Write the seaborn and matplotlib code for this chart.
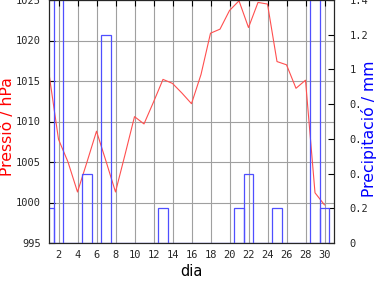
import matplotlib
matplotlib.use("Agg")
import matplotlib.pyplot as plt
import seaborn as sns
import numpy as np
import pandas as pd

# ---- data ----
days = list(range(1, 31))
pressure = [1015.9, 1007.8, 1005.0, 1001.3, 1005.0, 1008.8, 1005.1, 1001.3, 1005.9, 1010.6,
            1009.7, 1012.4, 1015.2, 1014.7, 1013.5, 1012.2, 1015.8, 1020.9, 1021.4, 1023.7,
            1024.9, 1021.6, 1024.7, 1024.5, 1017.4, 1017.0, 1014.1, 1015.1, 1001.2, 999.7]
rain_days = [1, 2, 5, 7, 13, 21, 22, 25, 29, 30]
rain_mm = [0.2, 2.4, 0.4, 1.2, 0.2, 0.2, 0.4, 0.2, 3.0, 0.2]
x_ticks = list(range(2, 31, 2))
p_ticks = [995, 1000, 1005, 1010, 1015, 1020, 1025]
r_ticks = [0, 0.2, 0.4, 0.6, 0.8, 1.0, 1.2, 1.4]
r_labels = ["0", "0.2", "0.4", "0.6", "0.8", "1", "1.2", "1.4"]

RED = "#ff4f4f"
BLUE = "#4f4fff"
GRID = "#a0a0a0"

sns.set_style("white")
plt.rcParams["font.family"] = ["DejaVu Sans"]

fig = plt.figure(figsize=(3.84, 2.88), dpi=100)
ax = fig.add_axes([49 / 384, 1 - 243 / 288, 285 / 384, 243 / 288])

df_p = pd.DataFrame({"dia": days, "p": pressure})
sns.lineplot(data=df_p, x="dia", y="p", ax=ax, color=RED, linewidth=0.8)

ax.set_xlim(1, 31)
ax.set_ylim(995, 1025)
ax.set_xticks(x_ticks)
ax.set_yticks(p_ticks)
ax.grid(True, color=GRID, linewidth=0.8)
ax.set_axisbelow(True)
for s in ax.spines.values():
    s.set_color("black")
    s.set_linewidth(0.8)
ax.tick_params(axis="both", direction="in", length=4, width=0.8, color="black",
               labelsize=7.5, top=True, right=False)
ax.tick_params(axis="y", pad=6)
ax.tick_params(axis="x", pad=5)
for lab in ax.get_xticklabels() + ax.get_yticklabels():
    lab.set_fontfamily("DejaVu Sans Mono")
ax.set_xlabel("")
ax.set_ylabel("")

ax2 = ax.twinx()
sns.histplot(x=rain_days, weights=rain_mm, discrete=True, fill=False, color=BLUE,
             linewidth=0.9, ax=ax2)
ax2.set_ylim(0, 1.4)
ax2.set_xlim(1, 31)
ax2.set_yticks(r_ticks)
ax2.set_yticklabels(r_labels)
ax2.set_ylabel("")
ax2.grid(False)
ax2.tick_params(axis="y", direction="in", length=4, width=0.8, color="black",
                labelsize=7.5, pad=11)
for lab in ax2.get_yticklabels():
    lab.set_fontfamily("DejaVu Sans Mono")
    lab.set_horizontalalignment("left")
for s in ax2.spines.values():
    s.set_linewidth(0.8)

fig.text(7.5 / 384, 1 - 127 / 288, "Pressió / hPa", rotation=90, color="red",
         fontsize=11.3, ha="center", va="center")
fig.text(369 / 384, 1 - 128.5 / 288, "Precipitació / mm", rotation=90, color="blue",
         fontsize=11.3, ha="center", va="center",
         bbox=dict(facecolor="white", edgecolor="none", pad=0))
fig.text(191.5 / 384, 1 - 272 / 288, "dia", color="black", fontsize=10.5,
         ha="center", va="center")

fig.savefig("out.png", dpi=100)
